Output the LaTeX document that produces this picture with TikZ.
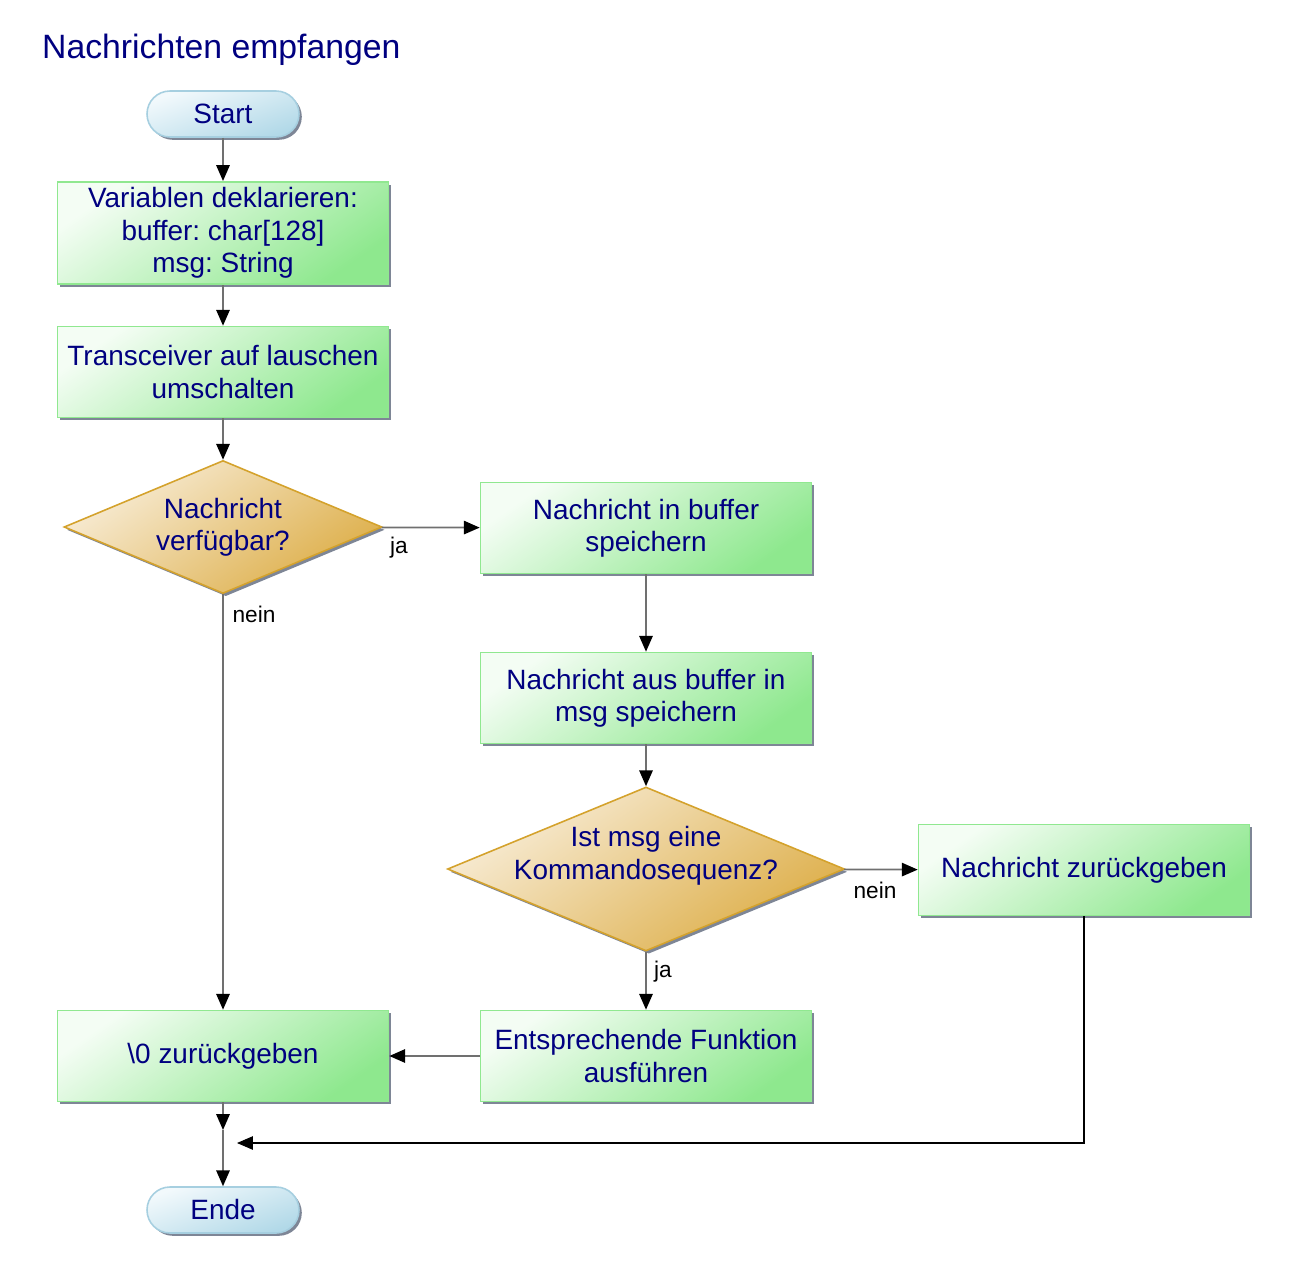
\documentclass[tikz,border=0pt]{standalone}
\usepackage{fontspec}
\setmainfont{Liberation Sans}
\usetikzlibrary{shapes.geometric,shadows,arrows.meta}
\definecolor{NavyText}{HTML}{000080}
\definecolor{BoxLight}{HTML}{F4FDF4}
\definecolor{BoxDark}{HTML}{8EE88E}
\definecolor{BoxLine}{HTML}{90E890}
\definecolor{DiaLight}{HTML}{F8EDD8}
\definecolor{DiaDark}{HTML}{DDAE48}
\definecolor{DiaLine}{HTML}{D4A22C}
\definecolor{PillLight}{HTML}{F2F9FC}
\definecolor{PillDark}{HTML}{B2D9E8}
\definecolor{PillLine}{HTML}{A6CFE0}
\definecolor{FlowGray}{HTML}{707070}
\definecolor{ShadowGray}{HTML}{7E8696}
\newcommand{\boxfont}{\fontsize{15.9}{18.4}\selectfont}
\newcommand{\labelfont}{\fontsize{12.9}{15}\selectfont}
\newcommand{\liftlines}[1]{\raisebox{2.8pt}[18pt][18pt]{\begin{tabular}{@{}c@{}}#1\end{tabular}}}
\frenchspacing

\begin{document}
\begin{tikzpicture}[
  every node/.style={text=NavyText},
  shade/.style={drop shadow={shadow xshift=1.6pt,shadow yshift=-1.6pt,fill=ShadowGray,opacity=1}},
  process/.style={shade, rectangle, draw=BoxLine, line width=0.9pt, top color=BoxLight, bottom color=BoxDark, shading angle=35,
    minimum width=6.62cm, minimum height=1.82cm, align=center, font=\boxfont},
  decision/.style={shade, diamond, draw=DiaLine, line width=0.9pt, top color=DiaLight, bottom color=DiaDark, shading angle=35,
    inner sep=-3pt, aspect=2.4, align=center, font=\boxfont},
  terminal/.style={shade, rectangle, rounded corners=0.46cm, draw=PillLine, line width=0.9pt, top color=PillLight, bottom color=PillDark, shading angle=20,
    minimum width=3.04cm, minimum height=0.92cm, font=\boxfont},
  flow/.style={draw=FlowGray, line width=1pt, -{Triangle[length=9pt,width=7.6pt,black]}},
  backline/.style={draw=black, line width=0.6pt, -{Triangle[length=9pt,width=7.6pt,black]}},
  branch/.style={text=black, font=\labelfont}
]
\useasboundingbox (0,0) rectangle (26,-25.52);

% Title
\node[anchor=west, font=\fontsize{19.2}{22}\selectfont] (title) at (0.72,-1.0) {Nachrichten empfangen};

% Left column
\node[terminal] (start) at (4.46,-2.28) {Start};
\node[process, minimum height=2.04cm] (decl) at (4.46,-4.66) {Variablen deklarieren:\\buffer: char[128]\\msg: String};
\node[process] (listen) at (4.46,-7.44) {Transceiver auf lauschen\\umschalten};
\node[decision, minimum width=6.36cm, minimum height=2.66cm] (avail) at (4.46,-10.54) {Nachricht\\verfügbar?};
\node[process] (zero) at (4.46,-21.12) {\textbackslash 0 zurückgeben};
\node[terminal] (ende) at (4.46,-24.20) {Ende};

% Middle column
\node[process] (store) at (12.92,-10.56) {Nachricht in buffer\\speichern};
\node[process] (copy) at (12.92,-13.96) {Nachricht aus buffer in\\msg speichern};
\node[decision, minimum width=7.94cm, minimum height=3.28cm] (cmd) at (12.92,-17.38) {\liftlines{Ist msg eine\\Kommandosequenz?}};
\node[process] (exec) at (12.92,-21.12) {Entsprechende Funktion\\ausführen};

% Right column
\node[process] (ret) at (21.68,-17.40) {Nachricht zurückgeben};

% Merge points
\coordinate (mergein) at (4.46,-22.60);
\coordinate (mergeR) at (4.74,-22.86);

% Connectors
\draw[flow] (start) -- (decl);
\draw[flow] (decl) -- (listen);
\draw[flow] (listen) -- (avail);
\draw[flow] (avail) -- (store);
\draw[flow] (avail) -- (zero);
\draw[flow] (store) -- (copy);
\draw[flow] (copy) -- (cmd);
\draw[flow] (cmd) -- (ret);
\draw[flow] (cmd) -- (exec);
\draw[flow] (exec) -- (zero);
\draw[flow] (zero) -- (mergein);
\draw[flow] (mergein) -- (ende);
\draw[backline] (ret) |- (mergeR);

% Branch labels
\node[branch] (yesA) at (7.98,-10.96) {ja};
\node[branch] (noA) at (5.08,-12.28) {nein};
\node[branch] (noB) at (17.50,-17.80) {nein};
\node[branch] (yesB) at (13.26,-19.44) {ja};
\end{tikzpicture}
\end{document}
